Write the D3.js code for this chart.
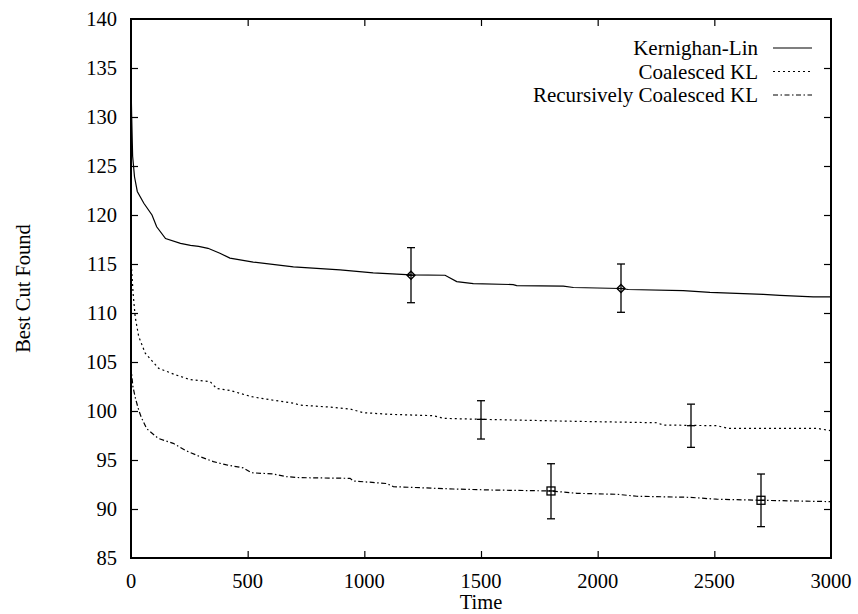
<!DOCTYPE html>
<html lang="en">
<head>
    <meta charset="UTF-8">
    <script src="https://d3js.org/d3.v7.min.js"></script>
    <title>Best Cut Found vs Time</title>
    <style>
        body {
            margin: 0;
            background: white;
        }
        svg {
            font-family: "Liberation Serif", "Times New Roman", serif;
        }
        .line {
            fill: none;
            stroke: black;
            stroke-width: 1.2;
        }
        .lbl {
            font-family: "Liberation Serif", "Times New Roman", serif;
            font-size: 20.5px;
            fill: black;
        }
    </style>
</head>
<body>
    <div id="chart"></div>

    <script>
        // Dimensions et marges
        const width = 858;
        const height = 614;
        const margin = { top: 19, right: 27, bottom: 56, left: 131 };

        // Données
        const xTicks = [0, 500, 1000, 1500, 2000, 2500, 3000];
        const yTicks = [85, 90, 95, 100, 105, 110, 115, 120, 125, 130, 135, 140];

        const seriesNames = ["Kernighan-Lin", "Coalesced KL", "Recursively Coalesced KL"];

        const klTime = [0, 3, 7, 15, 27, 55, 90, 110, 148, 212, 255, 290, 330, 381, 424, 524, 696, 896, 1038, 1200, 1346, 1396, 1467, 1638, 1653, 1853, 1896, 2100, 2131, 2367, 2481, 2710, 2781, 2924, 3000];
        const klValue = [133.5, 130, 126, 123.9, 122.4, 121.2, 120.0, 118.8, 117.6, 117.1, 116.9, 116.8, 116.6, 116.1, 115.6, 115.2, 114.7, 114.4, 114.1, 113.9, 113.85, 113.2, 113.0, 112.9, 112.8, 112.75, 112.6, 112.5, 112.4, 112.28, 112.1, 111.9, 111.8, 111.65, 111.65];

        const cklTime = [0, 9, 18, 33, 61, 119, 190, 254, 339, 367, 424, 517, 610, 696, 724, 853, 939, 996, 1110, 1296, 1339, 1500, 1900, 2253, 2281, 2510, 2560, 2939, 3000];
        const cklValue = [115.5, 112, 109.6, 107.6, 105.9, 104.35, 103.7, 103.2, 103.0, 102.3, 102.1, 101.46, 101.1, 100.8, 100.6, 100.4, 100.2, 99.83, 99.66, 99.52, 99.25, 99.15, 98.95, 98.8, 98.57, 98.5, 98.23, 98.23, 97.99];

        const rcklTime = [0, 8, 20, 33, 45, 67, 117, 181, 231, 296, 353, 410, 481, 517, 610, 667, 724, 939, 953, 1096, 1124, 1381, 1539, 1800, 1911, 2083, 2168, 2396, 2510, 2700, 3000];
        const rcklValue = [104.5, 102.5, 101.2, 100.1, 99.3, 98.2, 97.2, 96.7, 96.0, 95.34, 94.83, 94.5, 94.2, 93.7, 93.57, 93.3, 93.2, 93.13, 92.86, 92.6, 92.28, 92.04, 91.94, 91.84, 91.6, 91.5, 91.3, 91.19, 91.0, 90.89, 90.75];

        // barres d'erreur : temps, valeur, bas, haut
        const klErrTime = [1200, 2100];
        const klErrValue = [113.85, 112.5];
        const klErrLow = [111.05, 110.07];
        const klErrHigh = [116.67, 115.0];

        const cklErrTime = [1500, 2400];
        const cklErrValue = [99.15, 98.5];
        const cklErrLow = [97.14, 96.29];
        const cklErrHigh = [101.05, 100.7];

        const rcklErrTime = [1800, 2700];
        const rcklErrValue = [91.84, 90.89];
        const rcklErrLow = [89.0, 88.2];
        const rcklErrHigh = [94.62, 93.57];

        const dashes = [null, "2,3", "5,2.5,1.5,2.5"];
        const markers = ["diamond", "plus", "square"];

        const svg = d3.select("#chart")
            .append("svg")
            .attr("width", width)
            .attr("height", height);

        // Échelles
        const x = d3.scaleLinear()
            .domain([0, 3000])
            .range([margin.left, width - margin.right]);

        const y = d3.scaleLinear()
            .domain([85, 140])
            .range([height - margin.bottom, margin.top]);

        svg.append("clipPath")
            .attr("id", "plotArea")
            .append("rect")
            .attr("x", margin.left)
            .attr("y", margin.top)
            .attr("width", width - margin.left - margin.right)
            .attr("height", height - margin.top - margin.bottom);

        // Axes (ticks vers l'intérieur, comme gnuplot) — libellés ajoutés à part
        const tickLen = 7;
        const axisStyle = g => {
            g.select(".domain").remove();
            g.selectAll(".tick text").remove();
            g.selectAll(".tick line").attr("stroke", "black").attr("stroke-width", 1.2);
        };

        svg.append("g")
            .attr("transform", `translate(0,${height - margin.bottom})`)
            .call(d3.axisBottom(x).tickValues(xTicks.slice(1, -1)).tickSize(-tickLen))
            .call(axisStyle);

        svg.append("g")
            .attr("transform", `translate(0,${margin.top})`)
            .call(d3.axisTop(x).tickValues(xTicks.slice(1, -1)).tickSize(-tickLen))
            .call(axisStyle);

        svg.append("g")
            .attr("transform", `translate(${margin.left},0)`)
            .call(d3.axisLeft(y).tickValues(yTicks.slice(1, -1)).tickSize(-tickLen))
            .call(axisStyle);

        svg.append("g")
            .attr("transform", `translate(${width - margin.right},0)`)
            .call(d3.axisRight(y).tickValues(yTicks.slice(1, -1)).tickSize(-tickLen))
            .call(axisStyle);

        svg.selectAll(".xlabel")
            .data(xTicks)
            .join("text")
            .attr("class", "lbl xlabel")
            .attr("x", d => x(d))
            .attr("y", height - margin.bottom + 30)
            .attr("text-anchor", "middle")
            .text(d => d);

        svg.selectAll(".ylabel")
            .data(yTicks)
            .join("text")
            .attr("class", "lbl ylabel")
            .attr("x", margin.left - 14)
            .attr("y", d => y(d))
            .attr("dy", "0.35em")
            .attr("text-anchor", "end")
            .text(d => d);

        // Cadre
        svg.append("rect")
            .attr("x", margin.left)
            .attr("y", margin.top)
            .attr("width", width - margin.left - margin.right)
            .attr("height", height - margin.top - margin.bottom)
            .attr("fill", "none")
            .attr("stroke", "black")
            .attr("stroke-width", 2);

        // Titres des axes
        svg.append("text")
            .attr("class", "lbl")
            .attr("x", x(1500))
            .attr("y", 609)
            .attr("text-anchor", "middle")
            .text("Time");

        svg.append("text")
            .attr("class", "lbl")
            .attr("transform", `translate(30,${y(112.5)}) rotate(-90)`)
            .attr("text-anchor", "middle")
            .text("Best Cut Found");

        // Courbes
        const series = [
            { t: klTime, v: klValue },
            { t: cklTime, v: cklValue },
            { t: rcklTime, v: rcklValue }
        ];
        const errors = [
            { t: klErrTime, v: klErrValue, lo: klErrLow, hi: klErrHigh },
            { t: cklErrTime, v: cklErrValue, lo: cklErrLow, hi: cklErrHigh },
            { t: rcklErrTime, v: rcklErrValue, lo: rcklErrLow, hi: rcklErrHigh }
        ];

        const line = d3.line()
            .x(d => x(d[0]))
            .y(d => y(d[1]));

        series.forEach((s, i) => {
            svg.append("path")
                .datum(d3.zip(s.t, s.v))
                .attr("class", "line")
                .attr("clip-path", "url(#plotArea)")
                .attr("stroke-dasharray", dashes[i])
                .attr("d", line);
        });

        // Barres d'erreur et marqueurs
        const cap = 4;
        errors.forEach((e, i) => {
            e.t.forEach((t, j) => {
                const g = svg.append("g").attr("stroke", "black").attr("stroke-width", 1.3).attr("fill", "none");
                const cx = x(t);
                g.append("line").attr("x1", cx).attr("x2", cx).attr("y1", y(e.lo[j])).attr("y2", y(e.hi[j]));
                g.append("line").attr("x1", cx - cap).attr("x2", cx + cap).attr("y1", y(e.lo[j])).attr("y2", y(e.lo[j]));
                g.append("line").attr("x1", cx - cap).attr("x2", cx + cap).attr("y1", y(e.hi[j])).attr("y2", y(e.hi[j]));
                const cy = y(e.v[j]);
                if (markers[i] === "diamond") {
                    g.append("path").attr("d", `M${cx - 4},${cy}L${cx},${cy - 4}L${cx + 4},${cy}L${cx},${cy + 4}Z`);
                    g.append("line").attr("x1", cx - 4).attr("x2", cx + 4).attr("y1", cy).attr("y2", cy);
                } else if (markers[i] === "plus") {
                    g.append("line").attr("x1", cx - 4).attr("x2", cx + 4).attr("y1", cy).attr("y2", cy);
                } else {
                    g.append("rect").attr("x", cx - 4).attr("y", cy - 4).attr("width", 8).attr("height", 8);
                    g.append("line").attr("x1", cx - 4).attr("x2", cx + 4).attr("y1", cy).attr("y2", cy);
                }
            });
        });

        // Légende
        const legend = svg.append("g");
        seriesNames.forEach((name, i) => {
            const ly = 48 + i * 23.5;
            legend.append("text")
                .attr("class", "lbl")
                .attr("x", 758)
                .attr("y", ly)
                .attr("dy", "0.35em")
                .attr("text-anchor", "end")
                .style("font-size", "21px")
                .text(name);
            legend.append("line")
                .attr("class", "line")
                .attr("x1", 773)
                .attr("x2", 812)
                .attr("y1", ly)
                .attr("y2", ly)
                .attr("stroke-dasharray", dashes[i]);
        });
    </script>
</body>
</html>
